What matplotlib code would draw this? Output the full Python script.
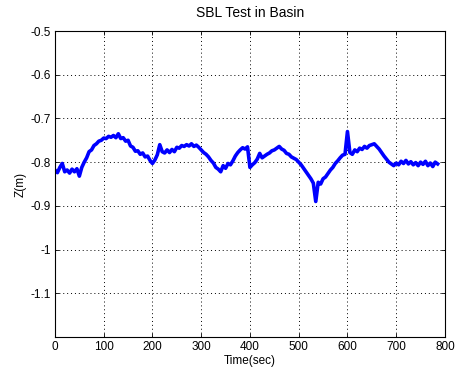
import numpy as np
import matplotlib
matplotlib.use("Agg")
import matplotlib.pyplot as plt

plt.rcParams['font.family'] = ['Liberation Sans', 'DejaVu Sans']

# samples every 5 s
time_sec = np.arange(0, 790, 5)
z_m = [
    -0.818, -0.824, -0.812, -0.803, -0.822, -0.818, -0.825, -0.816, -0.822, -0.815,
    -0.832, -0.812, -0.800, -0.790, -0.776, -0.772, -0.762, -0.758, -0.752, -0.750,
    -0.745, -0.746, -0.741, -0.743, -0.739, -0.744, -0.735, -0.746, -0.744, -0.752,
    -0.750, -0.763, -0.766, -0.775, -0.774, -0.782, -0.779, -0.788, -0.786, -0.796,
    -0.803, -0.795, -0.783, -0.760, -0.776, -0.779, -0.772, -0.778, -0.771, -0.776,
    -0.766, -0.768, -0.762, -0.764, -0.760, -0.763, -0.758, -0.764, -0.761, -0.766,
    -0.772, -0.778, -0.782, -0.788, -0.796, -0.802, -0.812, -0.816, -0.822, -0.808,
    -0.814, -0.803, -0.806, -0.797, -0.786, -0.778, -0.772, -0.767, -0.770, -0.765,
    -0.812, -0.806, -0.801, -0.793, -0.780, -0.790, -0.786, -0.782, -0.779, -0.774,
    -0.772, -0.768, -0.764, -0.770, -0.773, -0.780, -0.782, -0.788, -0.791, -0.794,
    -0.800, -0.806, -0.814, -0.822, -0.830, -0.838, -0.848, -0.890, -0.846, -0.850,
    -0.838, -0.834, -0.826, -0.818, -0.812, -0.803, -0.797, -0.790, -0.784, -0.782,
    -0.730, -0.778, -0.782, -0.772, -0.776, -0.768, -0.771, -0.764, -0.768, -0.762,
    -0.760, -0.758, -0.764, -0.770, -0.778, -0.786, -0.793, -0.800, -0.804, -0.808,
    -0.802, -0.806, -0.798, -0.803, -0.796, -0.804, -0.799, -0.806, -0.801, -0.808,
    -0.800, -0.805, -0.798, -0.808, -0.802, -0.810, -0.800, -0.804,
]

x_ticks = [0, 100, 200, 300, 400, 500, 600, 700, 800]
y_ticks = [-1.1, -1, -0.9, -0.8, -0.7, -0.6, -0.5]
y_labels = ['-1.1', '-1', '-0.9', '-0.8', '-0.7', '-0.6', '-0.5']

fig = plt.figure(figsize=(4.58, 3.71), dpi=100)
ax = fig.add_axes([0.120, 0.0916, 0.8515, 0.8248])

ax.plot(time_sec, z_m, color='#0000ff', linewidth=2.6)

ax.set_xlim(0, 800)
ax.set_ylim(-1.2, -0.5)
ax.set_xticks(x_ticks)
ax.set_yticks(y_ticks)
ax.set_yticklabels(y_labels)
ax.tick_params(direction='in', length=3, width=0.6, top=True, right=True,
               labelsize=8.5, pad=3)
ax.grid(True, color='black', linestyle=(0, (1, 3)), linewidth=0.7)
for s in ax.spines.values():
    s.set_linewidth(0.8)

ax.set_title('SBL Test in Basin', fontsize=10, pad=10)
ax.set_xlabel('Time(sec)', fontsize=8.5, labelpad=1)
ax.set_ylabel('Z(m)', fontsize=8.5, labelpad=3)

fig.savefig('out.png', dpi=100)
